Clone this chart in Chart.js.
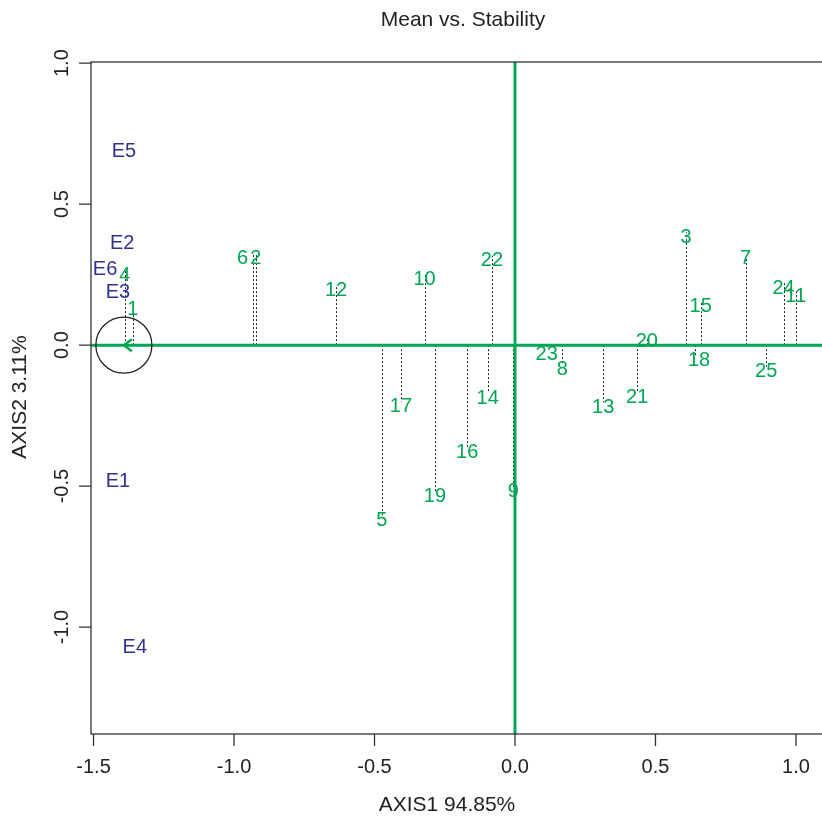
<!DOCTYPE html>
<html>
<head>
<meta charset="utf-8">
<title>Mean vs. Stability</title>
<script src="https://cdn.jsdelivr.net/npm/chart.js@4.4.1/dist/chart.umd.min.js"></script>
<style>
  html, body { margin: 0; padding: 0; background: #fff; overflow: hidden; }
  #wrap { position: relative; width: 822px; height: 816px; overflow: hidden; }
  canvas { position: absolute; left: 0; top: 0; }
</style>
</head>
<body>
<div id="wrap"><canvas id="biplot" width="830" height="816"></canvas></div>
<script>
// --- Data ---
const genoLabels = ['1', '2', '3', '4', '5', '6', '7', '8', '9', '10', '11', '12', '13',
                    '14', '15', '16', '17', '18', '19', '20', '21', '22', '23', '24', '25'];
const genoX = [-1.360, -0.922, 0.609, -1.389, -0.474, -0.934, 0.821, 0.168, -0.006, -0.322, 0.999, -0.637, 0.314,
               -0.097, 0.661, -0.170, -0.406, 0.641, -0.285, 0.469, 0.435, -0.082, 0.113, 0.956, 0.894];
const genoY = [0.145, 0.325, 0.400, 0.266, -0.603, 0.325, 0.325, -0.068, -0.502, 0.251, 0.191, 0.213, -0.203,
               -0.171, 0.154, -0.364, -0.201, -0.035, -0.520, 0.029, -0.168, 0.317, -0.014, 0.219, -0.077];

const envLabels = ['E1', 'E2', 'E3', 'E4', 'E5', 'E6'];
const envX = [-1.413, -1.398, -1.413, -1.353, -1.392, -1.459];
const envY = [-0.466, 0.378, 0.204, -1.055, 0.705, 0.287];

// average environment (arrow + circle)
const aeaX = -1.392;
const aeaY = 0;

const xTicks = [-1.5, -1.0, -0.5, 0.0, 0.5, 1.0];
const yTicks = [-1.0, -0.5, 0.0, 0.5, 1.0];

const titleText = 'Mean vs. Stability';
const xTitle = 'AXIS1 94.85%';
const yTitle = 'AXIS2 3.11%';

// --- Styles ---
const GREEN = '#00A651';
const BLUE = '#30318F';
const INK = '#222';
const FONT = '"Liberation Sans", Arial, Helvetica, sans-serif';
const LABEL_DROP = 5; // text sits a little below its point, like R's text()
const labelNudge = { '6': -10, '18': 4 };

const decor = {
    id: 'decor',
    beforeDatasetsDraw(chart) {
        const { ctx, scales: { x, y } } = chart;
        ctx.save();
        ctx.strokeStyle = INK;
        ctx.lineWidth = 1;
        ctx.setLineDash([2, 2]);
        genoX.forEach((gx, i) => {
            const px = Math.round(x.getPixelForValue(gx)) + 0.5;
            ctx.beginPath();
            ctx.moveTo(px, y.getPixelForValue(0));
            ctx.lineTo(px, y.getPixelForValue(genoY[i]));
            ctx.stroke();
        });
        ctx.restore();
    },
    afterDatasetsDraw(chart) {
        const { ctx, chartArea: area, scales: { x, y } } = chart;
        ctx.save();

        // arrow head of the average environment axis
        const tx = x.getPixelForValue(aeaX);
        const ty = y.getPixelForValue(aeaY);
        ctx.strokeStyle = GREEN;
        ctx.lineWidth = 2.5;
        ctx.beginPath();
        ctx.moveTo(tx + 8, ty - 6);
        ctx.lineTo(tx, ty);
        ctx.lineTo(tx + 8, ty + 6);
        ctx.stroke();

        // labels
        ctx.textAlign = 'center';
        ctx.textBaseline = 'middle';
        ctx.font = '20px ' + FONT;
        ctx.fillStyle = GREEN;
        genoLabels.forEach((lab, i) => {
            const dx = labelNudge[lab] || 0;
            ctx.fillText(lab, x.getPixelForValue(genoX[i]) + dx, y.getPixelForValue(genoY[i]) + LABEL_DROP);
        });
        ctx.fillStyle = BLUE;
        envLabels.forEach((lab, i) => {
            ctx.fillText(lab, x.getPixelForValue(envX[i]), y.getPixelForValue(envY[i]) + LABEL_DROP);
        });

        // frame
        ctx.strokeStyle = '#333';
        ctx.lineWidth = 1.3;
        ctx.strokeRect(area.left, area.top, area.right - area.left, area.bottom - area.top);

        // ticks
        ctx.beginPath();
        xTicks.forEach(v => {
            const px = x.getPixelForValue(v);
            ctx.moveTo(px, area.bottom);
            ctx.lineTo(px, area.bottom + 12);
        });
        yTicks.forEach(v => {
            const py = y.getPixelForValue(v);
            ctx.moveTo(area.left, py);
            ctx.lineTo(area.left - 12, py);
        });
        ctx.stroke();

        // tick labels
        ctx.fillStyle = INK;
        ctx.font = '20px ' + FONT;
        xTicks.forEach(v => {
            ctx.fillText(v.toFixed(1), x.getPixelForValue(v), 767);
        });
        yTicks.forEach(v => {
            ctx.save();
            ctx.translate(62, y.getPixelForValue(v));
            ctx.rotate(-Math.PI / 2);
            ctx.fillText(v.toFixed(1), 0, 0);
            ctx.restore();
        });

        // titles
        ctx.font = '21px ' + FONT;
        ctx.fillText(titleText, 463, 20);
        ctx.fillText(xTitle, 447, 805);
        ctx.save();
        ctx.translate(20, 397);
        ctx.rotate(-Math.PI / 2);
        ctx.fillText(yTitle, 0, 0);
        ctx.restore();

        ctx.restore();
    }
};

const ctx = document.getElementById('biplot').getContext('2d');
new Chart(ctx, {
    type: 'scatter',
    data: {
        datasets: [
            {
                label: 'genotypes',
                data: genoX.map((gx, i) => ({ x: gx, y: genoY[i] })),
                pointRadius: 0
            },
            {
                label: 'environments',
                data: envX.map((ex, i) => ({ x: ex, y: envY[i] })),
                pointRadius: 0
            },
            {
                label: 'circle',
                data: [{ x: aeaX, y: aeaY }],
                pointRadius: 28,
                pointBorderWidth: 1.3,
                pointBorderColor: INK,
                pointBackgroundColor: 'rgba(0,0,0,0)'
            },
            {
                label: 'abscissa',
                data: [{ x: -2, y: 0 }, { x: 2, y: 0 }],
                showLine: true,
                borderColor: GREEN,
                borderWidth: 3,
                pointRadius: 0
            },
            {
                label: 'ordinate',
                data: [{ x: 0, y: -2 }, { x: 0, y: 2 }],
                showLine: true,
                borderColor: GREEN,
                borderWidth: 3,
                pointRadius: 0
            }
        ]
    },
    options: {
        responsive: false,
        animation: false,
        events: [],
        devicePixelRatio: 1,
        layout: { autoPadding: false, padding: { left: 91, top: 62, right: 2, bottom: 82 } },
        plugins: { legend: { display: false }, tooltip: { enabled: false } },
        scales: {
            x: { type: 'linear', min: -1.509, max: 1.114, display: false },
            y: { type: 'linear', min: -1.379, max: 1.004, display: false }
        }
    },
    plugins: [decor]
});
</script>
</body>
</html>
